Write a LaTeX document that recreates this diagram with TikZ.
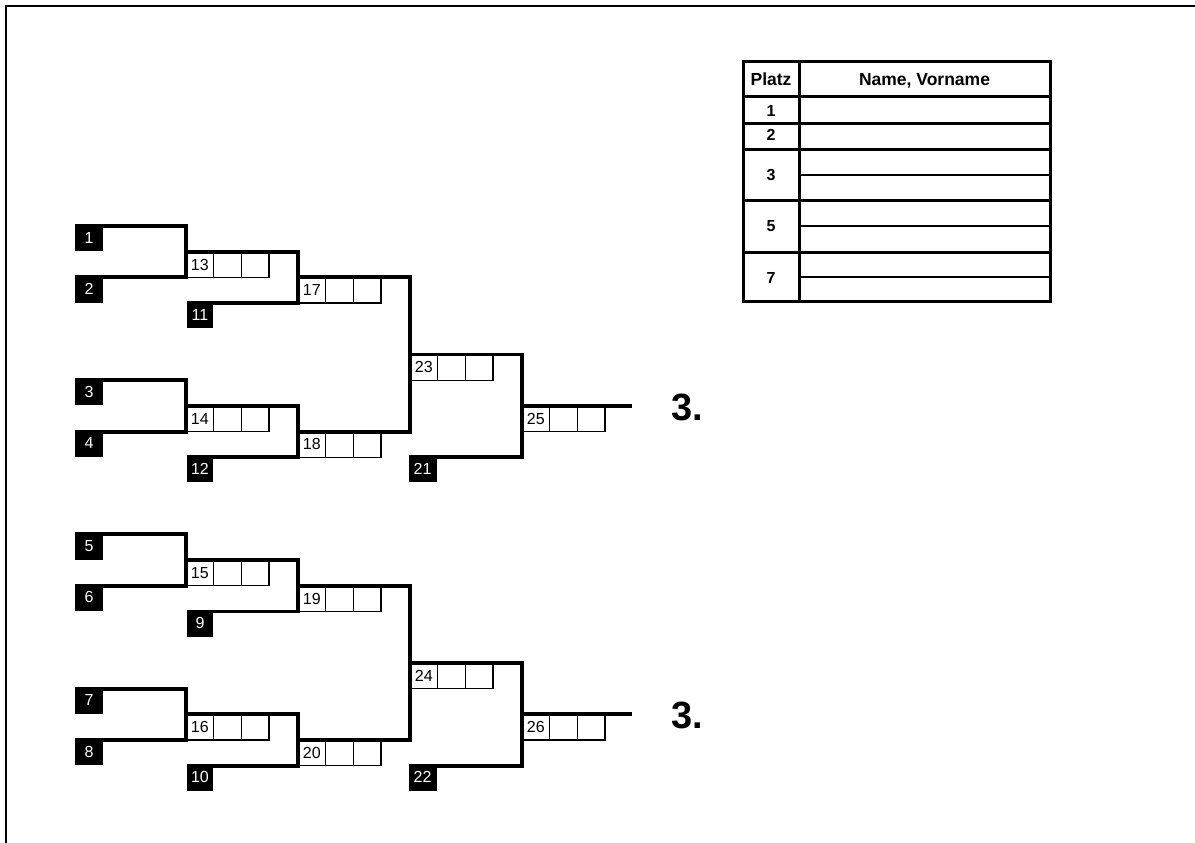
\documentclass[tikz,border=0pt]{standalone}
\usepackage{fontspec}
\setmainfont{Liberation Sans}
\begin{document}
\begin{tikzpicture}[x=1pt,y=-1pt,
  bline/.style={line width=3.9pt, line join=miter},
  cellbox/.style={draw, line width=1.3pt, minimum width=27.7pt, minimum height=25.7pt, inner sep=0pt, outer sep=0pt, anchor=north west, font=\fontsize{16}{18}\selectfont},
  blackbox/.style={fill=black, text=white, minimum width=28pt, minimum height=27pt, inner sep=0pt, outer sep=0pt, anchor=north west, font=\fontsize{16}{18}\selectfont},
  place/.style={font=\fontsize{38}{40}\selectfont\bfseries, inner sep=0pt},
  thead/.style={font=\fontsize{17.5}{19}\selectfont\bfseries, inner sep=0pt, anchor=base},
  tnum/.style={font=\fontsize{16}{18}\selectfont\bfseries, inner sep=0pt, anchor=base},
  tthick/.style={line width=3pt},
  tthin/.style={line width=1.3pt}]
\useasboundingbox (0,0) rectangle (1195,843);
% frame
\draw[line width=2pt] (5.7,843) -- (5.7,5.7) -- (1195,5.7);
% ---------- nodes: quarters ----------
\foreach \b/\la/\lb/\lc/\lm in {0/1/2/11/13, 6/3/4/12/14, 12/5/6/9/15, 18/7/8/10/16}{
  \node[blackbox] (p\la) at (75,{226+25.7*\b-1.9}) {\la};
  \node[blackbox] (p\lb) at (75,{226+25.7*(\b+2)-1.9}) {\lb};
  \node[blackbox, minimum width=26pt] (p\lc) at (187,{226+25.7*(\b+3)-1.9}) {\lc};
  \node[cellbox] (m\lm) at (186,{226+25.7*(\b+1)}) {\lm};
  \node[cellbox] (m\lm b) at (m\lm.north east) {};
  \node[cellbox] (m\lm c) at (m\lm b.north east) {};
}
% ---------- nodes: halves ----------
\foreach \g/\ma/\mb/\mc/\lc/\md in {0/17/18/23/21/25, 12/19/20/24/22/26}{
  \node[cellbox] (m\ma) at (298,{226+25.7*(\g+2)}) {\ma};
  \node[cellbox] (m\ma b) at (m\ma.north east) {};
  \node[cellbox] (m\ma c) at (m\ma b.north east) {};
  \node[cellbox] (m\mb) at (298,{226+25.7*(\g+8)}) {\mb};
  \node[cellbox] (m\mb b) at (m\mb.north east) {};
  \node[cellbox] (m\mb c) at (m\mb b.north east) {};
  \node[cellbox] (m\mc) at (410,{226+25.7*(\g+5)}) {\mc};
  \node[cellbox] (m\mc b) at (m\mc.north east) {};
  \node[cellbox] (m\mc c) at (m\mc b.north east) {};
  \node[cellbox] (m\md) at (522,{226+25.7*(\g+7)}) {\md};
  \node[cellbox] (m\md b) at (m\md.north east) {};
  \node[cellbox] (m\md c) at (m\md b.north east) {};
  \node[blackbox, minimum width=28pt] (p\lc) at (408.5,{226+25.7*(\g+9)-1.9}) {\lc};
  \coordinate (end\md) at (632,{226+25.7*(\g+7)});
  \node[place] (t\md) at (687.5,{226+25.7*(\g+7)+1.5}) {3.};
}
% ---------- connectors: quarters ----------
\foreach \la/\lb/\lc/\lm/\ln in {1/2/11/13/17, 3/4/12/14/18, 5/6/9/15/19, 7/8/10/16/20}{
  \draw[bline] ([yshift=-1.9pt]p\la.north west) -| ([yshift=-1.9pt]m\lm.west |- p\lb.north) -- ([yshift=-1.9pt]p\lb.north west);
  \draw[bline] (m\lm.north west) -| ([yshift=-1.9pt]m\ln.west |- p\lc.north) -- ([yshift=-1.9pt]p\lc.north west);
}
% ---------- connectors: halves ----------
\foreach \ma/\mb/\mc/\lc/\md in {17/18/23/21/25, 19/20/24/22/26}{
  \draw[bline] (m\ma.north west) -| (m\mc.west |- m\mb.north) -- (m\mb.north west);
  \draw[bline] (m\mc.north west) -| ([yshift=-1.9pt]m\md.west |- p\lc.north) -- ([yshift=-1.9pt]p\lc.north west);
  \draw[bline] (m\md.north west) -- (end\md);
}
% ---------- table ----------
\draw[tthin] (799,175) -- (1050,175);
\draw[tthin] (799,226) -- (1050,226);
\draw[tthin] (799,277) -- (1050,277);
\foreach \yy in {97,123,149,200,252}{
  \draw[tthick] (743,\yy) -- (1050,\yy);
}
\draw[tthick] (799,62) -- (799,301);
\draw[tthick] (743,62) rectangle (1050,301);
\node[thead] (hplatz) at (771,86) {Platz};
\node[thead] (hname) at (924.5,86) {Name, Vorname};
\node[tnum] (r1) at (771,117) {1};
\node[tnum] (r2) at (771,140.5) {2};
\node[tnum] (r3) at (771,180) {3};
\node[tnum] (r5) at (771,231.5) {5};
\node[tnum] (r7) at (771,283) {7};
\end{tikzpicture}
\end{document}
